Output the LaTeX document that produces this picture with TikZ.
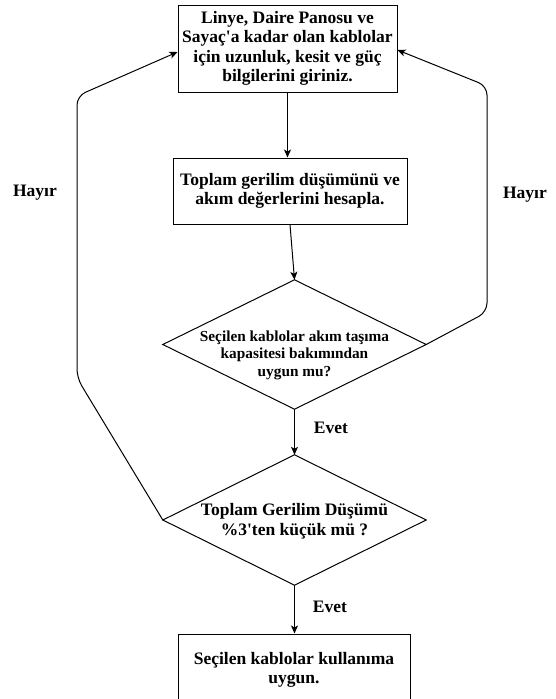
\documentclass[tikz,border=0pt]{standalone}
\usepackage{fontspec}
\setmainfont{Liberation Serif}
\usetikzlibrary{arrows.meta}
\begin{document}
\begin{tikzpicture}[x=1pt,y=-1pt,
  box/.style={draw, line width=1pt, align=center, inner sep=0pt,
    font=\bfseries\fontsize{17.5}{19.3}\selectfont},
  shapebox/.style={draw=none, inner sep=0pt},
  dtext/.style={align=center, inner sep=0pt},
  arr/.style={draw, line width=1pt, -{Stealth[length=8pt,width=7pt,inset=2pt]}},
  lbl/.style={font=\bfseries\fontsize{17.5}{19}\selectfont, inner sep=0pt}]
\useasboundingbox (0,0) rectangle (556,699);

\node[box, minimum width=219pt, minimum height=87pt] (b1) at (287.5,48.5)
  {Linye, Daire Panosu ve\\Sayaç\textquotesingle a kadar olan kablolar\\için uzunluk, kesit ve güç\\bilgilerini giriniz.};
\node[box, minimum width=234pt, minimum height=66pt] (b2) at (290,191)
  {Toplam gerilim düşümünü ve\\akım değerlerini hesapla.};

\node[shapebox, minimum width=263pt, minimum height=129pt] (d1) at (294.5,344.5) {};
\draw[line width=1pt] (d1.north) -- (d1.east) -- (d1.south) -- (d1.west) -- cycle;
\node[dtext, font=\bfseries\fontsize{15.3}{17.5}\selectfont] (d1t) at (294.5,355)
  {Seçilen kablolar akım taşıma\\kapasitesi bakımından\\uygun mu?};

\node[shapebox, minimum width=263pt, minimum height=130pt] (d2) at (294.5,520) {};
\draw[line width=1pt] (d2.north) -- (d2.east) -- (d2.south) -- (d2.west) -- cycle;
\node[dtext, font=\bfseries\fontsize{17.5}{20}\selectfont] (d2t) at (294.5,521)
  {Toplam Gerilim Düşümü\\\%3\textquotesingle ten küçük mü ?};

\node[box, minimum width=232pt, minimum height=72pt] (b3) at (294,670)
  {Seçilen kablolar kullanıma\\uygun.};

\draw[arr] (b1.south) -- (b1.south |- b2.north);
\draw[arr] (b2.south) -- (d1.north);
\draw[arr] (d1.south) -- (d2.north);
\draw[arr] (d2.south) -- (d2.south |- b3.north);

\draw[arr, rounded corners=9pt] (d2.west) -- (77,378) -- (77,96) -- ([yshift=-3.5pt]b1.west);
\draw[arr, rounded corners=9pt] (d1.east) -- (487,312) -- (487,86) -- ([yshift=-1.5pt]b1.east);

\node[lbl] (h1) at (35,193) {Hayır};
\node[lbl] (h2) at (525,195) {Hayır};
\node[lbl] (e1) at (331,428) {Evet};
\node[lbl] (e2) at (330,607) {Evet};
\end{tikzpicture}
\end{document}
